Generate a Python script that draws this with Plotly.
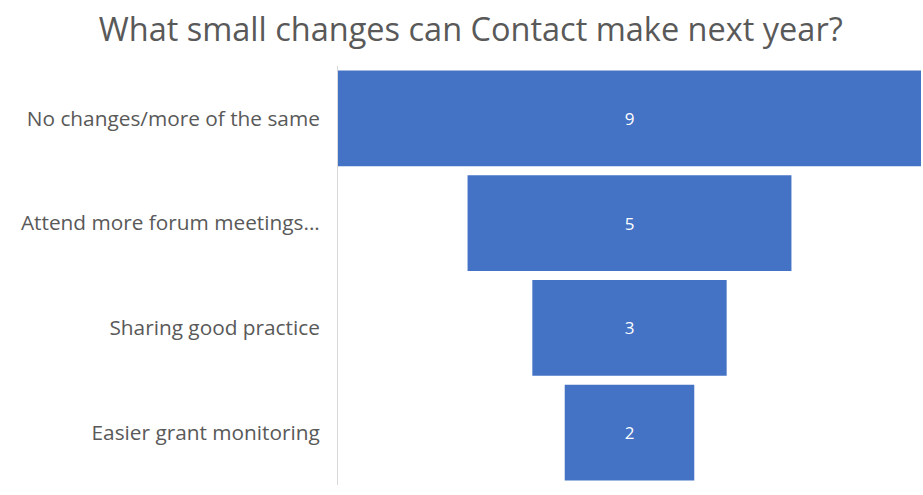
import plotly.graph_objects as go

categories = ["No changes/more of the same", "Attend more forum meetings...",
              "Sharing good practice", "Easier grant monitoring"]
values = [9, 5, 3, 2]

fig = go.Figure(go.Funnel(
    y=categories, x=values,
    marker=dict(color="#4472C4", line=dict(width=0)),
    connector=dict(visible=False),
    textinfo="value", textposition="inside",
    textfont=dict(color="white", size=17, family="Open Sans"),
    hoverinfo="skip",
))
fig.update_layout(
    width=923, height=495,
    margin=dict(l=338, r=2, t=66, b=10),
    paper_bgcolor="white", plot_bgcolor="white",
    title=dict(text="What small changes can Contact make next year?",
               x=0.51, xanchor="center", y=0.94, yanchor="middle",
               font=dict(family="Open Sans", size=32.5, color="#595959")),
    font=dict(family="Open Sans", color="#595959"),
    funnelgap=0.085,
    showlegend=False,
)
fig.update_xaxes(visible=False, range=[-4.5, 4.5])
fig.update_yaxes(showline=True, linecolor="#D9D9D9", linewidth=1,
                 ticks="outside", ticklen=13, tickcolor="rgba(0,0,0,0)",
                 tickfont=dict(size=20.8, color="#595959", family="Open Sans"),
                 showgrid=False)
fig.write_html("out.html")
